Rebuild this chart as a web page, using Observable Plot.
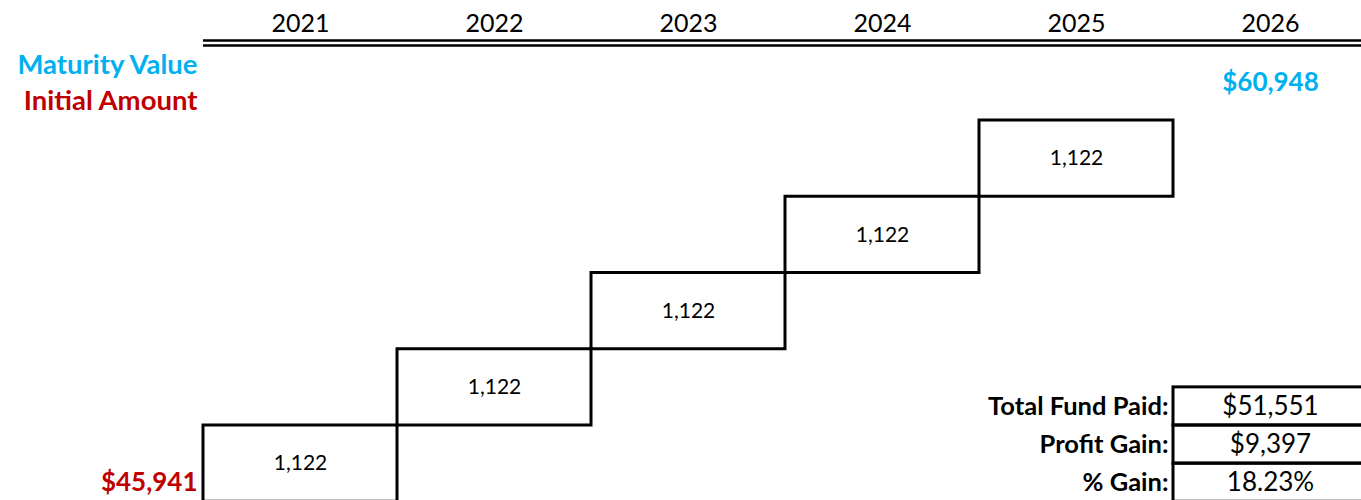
<!DOCTYPE html>
<html>
<head>
<meta charset="utf-8">
<script src="https://cdn.jsdelivr.net/npm/d3@7"></script>
<script src="https://cdn.jsdelivr.net/npm/@observablehq/plot@0.6"></script>
<style>
  html, body { margin: 0; padding: 0; background: #fff; }
  #chart svg { display: block; }
</style>
</head>
<body>
<div id="chart"></div>
<script>
// ---- data ----
const years = [2021, 2022, 2023, 2024, 2025, 2026];
const payYears = [2021, 2022, 2023, 2024, 2025];
const payments = [1122, 1122, 1122, 1122, 1122];
const initialAmount = 45941;
const maturityValue = 60948;
const tableLabels = ["Total Fund Paid:", "Profit Gain:", "% Gain:"];
const tableValues = ["$51,551", "$9,397", "18.23%"];

// ---- layout ----
const W = 1361, H = 500;
const colLeft = 203, colWidth = 194;
const stepPx = 76.25;
const pxPerUnit = stepPx / payments[0];
const baseY = H + 1.25;                 // pixel row of the waterfall base
const yMax = baseY / pxPerUnit;
const xMax = (W - colLeft) / colWidth;
const headerRulesPx = [40, 45];
const blue = "#00B0F0", red = "#C00000";

let cum = 0;
const steps = payYears.map((yr, i) => {
  const y1 = cum; cum += payments[i];
  return {year: yr, col: years.indexOf(yr), y1, y2: cum, value: payments[i]};
});
const half = payments[0] / 2;
const n = tableLabels.length;
const table = tableLabels.map((label, i) => ({
  label, value: tableValues[i], y1: (n - 1 - i) * half, y2: (n - i) * half
}));
const lastCol = years.indexOf(2026);
const fmt = d3.format(",");
const money = v => "$" + fmt(v);

const chart = Plot.plot({
  width: W, height: H, margin: 0,
  x: {type: "linear", domain: [-colLeft / colWidth, xMax], axis: null},
  y: {domain: [0, yMax], range: [baseY, 0], axis: null},
  style: {fontFamily: "Lato, 'Open Sans', sans-serif", background: "white", color: "black"},
  marks: [
    Plot.ruleY(headerRulesPx.map(px => (baseY - px) / pxPerUnit), {x1: 0, x2: xMax + 0.1, stroke: "black", strokeWidth: 2.6}),
    Plot.text(years, {x: (d, i) => i + 0.5, frameAnchor: "top", lineAnchor: "middle", dy: 23, text: d => String(d), fontSize: 25, fill: "black"}),
    Plot.rect(steps, {x1: "col", x2: d => d.col + 1, y1: "y1", y2: "y2", fill: "none", stroke: "black", strokeWidth: 3}),
    Plot.text(steps, {x: d => d.col + 0.5, y: d => (d.y1 + d.y2) / 2, text: d => fmt(d.value), fontSize: 21, fill: "black"}),
    Plot.text(["Maturity Value"], {x: 0, frameAnchor: "top", lineAnchor: "middle", dy: 65, dx: -6, text: d => d, textAnchor: "end", fontWeight: "bold", fill: blue, fontSize: 27.5}),
    Plot.text(["Initial Amount"], {x: 0, frameAnchor: "top", lineAnchor: "middle", dy: 101, dx: -6, text: d => d, textAnchor: "end", fontWeight: "bold", fill: red, fontSize: 27.5}),
    Plot.text([initialAmount], {x: 0, y: 0, dy: -19, dx: -6, text: d => money(d), textAnchor: "end", fontWeight: "bold", fill: red, fontSize: 26}),
    Plot.text([maturityValue], {x: lastCol + 0.5, y: cum, dy: -38, text: d => money(d), fontWeight: "bold", fill: blue, fontSize: 26}),
    Plot.rect(table, {x1: lastCol, x2: xMax + 0.1, y1: "y1", y2: "y2", fill: "none", stroke: "black", strokeWidth: 3}),
    Plot.text(table, {x: lastCol, y: d => (d.y1 + d.y2) / 2, dx: -5, text: "label", textAnchor: "end", fontWeight: "bold", fontSize: 25.5, fill: "black"}),
    Plot.text(table, {x: lastCol + 0.5, y: d => (d.y1 + d.y2) / 2, text: "value", fontSize: 26, fill: "black"})
  ]
});
document.getElementById("chart").append(chart);
</script>
</body>
</html>
